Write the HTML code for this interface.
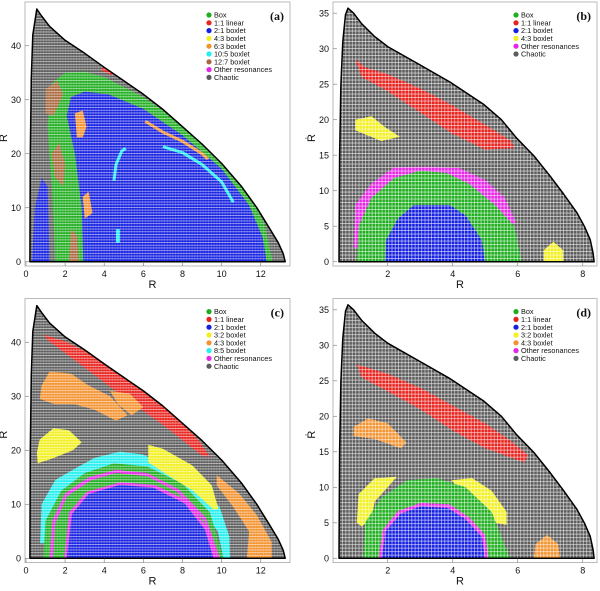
<!DOCTYPE html>
<html><head><meta charset="utf-8"><style>
html,body{margin:0;padding:0;background:#fff}
svg{display:block;font-family:"Liberation Sans",sans-serif}
</style></head><body>
<svg id="fig" width="600" height="591" viewBox="0 0 600 591" xmlns="http://www.w3.org/2000/svg"></svg>
<script>
// ---- data (data coordinates: R, Rdot) ----
const boundaryA = [[0.2,0],[0.22,20],[0.27,34],[0.35,42],[0.55,46.8],[0.8,45.5],[1.2,43.6],[2,41],[3,38.6],[4,36],[5,33.5],[6,31],[7,28.2],[8,25],[9,21.8],[10,18.2],[11,14],[11.8,10],[12.4,6.5],[12.9,3.5],[13.15,1.5],[13.25,0]];
const boundaryB = [[0.5,0],[0.52,15],[0.56,25],[0.62,31],[0.7,34.8],[0.78,35.7],[0.95,35],[1.2,33.5],[1.6,31.7],[2,30.3],[3,27.7],[3.92,25.3],[4.94,22.2],[5.5,20],[5.97,17.4],[6.5,14.9],[6.99,12.1],[7.4,9.6],[7.82,6.9],[8.05,5],[8.23,3.1],[8.32,1.2],[8.35,0]];
const ticksXA = [0,2,4,6,8,10,12];
const ticksYA = [0,10,20,30,40];
const ticksXB = [2,4,6,8];
const ticksYB = [0,5,10,15,20,25,30,35];
const colors = {box:"#1fae1f",lin:"#e8231e",b21:"#1520e0",yel:"#f2f020",ora:"#f3922e",cya:"#25eeee",bro:"#a8683c",mag:"#e626e6",cha:"#5c5c5c"};
const legendA = [["Box","box"],["1:1 linear","lin"],["2:1 boxlet","b21"],["4:3 boxlet","yel"],["6:3 boxlet","ora"],["10:5 boxlet","cya"],["12:7 boxlet","bro"],["Other resonances","mag"],["Chaotic","cha"]];
const legendB = [["Box","box"],["1:1 linear","lin"],["2:1 boxlet","b21"],["4:3 boxlet","yel"],["Other resonances","mag"],["Chaotic","cha"]];
const legendC = [["Box","box"],["1:1 linear","lin"],["2:1 boxlet","b21"],["3:2 boxlet","yel"],["4:3 boxlet","ora"],["8:5 boxlet","cya"],["Other resonances","mag"],["Chaotic","cha"]];
const legendD = [["Box","box"],["1:1 linear","lin"],["2:1 boxlet","b21"],["3:2 boxlet","yel"],["4:3 boxlet","ora"],["Other resonances","mag"],["Chaotic","cha"]];
const regionsA = [
 ["box",[[1.5,0],[1.35,12],[1.1,25],[1.3,33],[2,35],[3,35.2],[4,34.2],[6,30.5],[8,25.5],[10,19.5],[11.3,13.5],[12.2,7],[12.6,0]]],
 ["b21",[[2.93,0],[2.85,10],[2.5,20],[2.08,27],[2.3,30.5],[3,31.5],[4.2,31],[6,28.3],[8,23.4],[10,17.2],[11.4,10.5],[12.1,4.5],[12.3,0]]],
 ["b21",[[0.3,0],[0.45,10],[0.8,15.5],[1.1,14],[1.15,8],[1.2,0]]],
 ["bro",[[1,32],[1.6,33.5],[1.9,31],[1.4,27],[1,27.5]]],
 ["bro",[[1.3,20],[1.7,22],[2,18],[1.9,14],[1.5,15.5]]],
 ["bro",[[2.2,0],[2.3,6],[2.6,5],[2.7,0]]],
 ["ora",[[2.6,23],[2.5,27.5],[2.9,28],[3.1,25],[2.9,23]]],
 ["ora",[[3,8],[2.9,12],[3.2,13],[3.4,9]]],
 ["cya",[[4.6,3.5],[4.6,6],[4.8,6],[4.8,3.5]]],
 ["lin",[[3.8,35.5],[4.4,34.5],[4.6,35.3],[4.0,36.2]]]
];
const linesA = [
 ["cya",[[4.5,15],[4.6,18],[4.9,20.5],[5.1,21]]],
 ["cya",[[7,21.3],[8,20.2],[9,18],[10,14.8],[10.6,11]]],
 ["ora",[[6.1,26],[7,24],[8,22.3],[9,20],[9.3,19]]]
];
const regionsB = [
 ["mag",[[0.95,2],[1,8],[1.5,11],[2.2,13.3],[3.2,13.4],[4.2,13.2],[5,11.5],[5.6,9],[5.96,5.4],[5.4,5.6],[4.5,10],[3.5,11],[2,10],[1.4,6],[1.3,2]]],
 ["box",[[1.05,0],[1.1,5],[1.5,9],[2.2,11.8],[3,12.8],[3.8,12.5],[4.5,11],[5.3,8],[5.9,5],[6.12,0]]],
 ["b21",[[1.92,0],[1.95,3],[2.3,6],[2.8,8],[3.9,8],[4.4,6.5],[4.9,3],[5,0]]],
 ["lin",[[1.0,28.5],[1.3,27.4],[2,26.4],[3,24.4],[4,22],[5,19.3],[5.8,17],[5.9,16],[5,15.8],[4,18],[3,21],[2,24],[1.2,26]]],
 ["yel",[[1.0,20],[1.5,20.5],[1.9,19],[2.38,17.6],[1.8,17],[1.0,18.5]]],
 ["yel",[[6.8,0],[6.8,1.6],[7.1,2.8],[7.4,1.6],[7.4,0]]]
];
const regionsC = [
 ["cya",[[0.72,2.8],[0.8,10],[1.5,14.5],[2.4,16.4],[3.5,18.6],[4.8,19.75],[6,19.2],[7.5,16.5],[8.8,13.5],[9.9,9.5],[10.4,4],[10.43,0],[10.09,0],[9.8,5],[8.5,11],[6,15.5],[2.5,12.5],[1.4,9],[1.1,2.8]]],
 ["box",[[0.89,0],[1.0,7],[1.8,12.5],[3,15.8],[4.5,17.6],[6.2,17],[8,13.8],[9.4,8.5],[10.09,0]]],
 ["mag",[[1.2,0],[1.35,7],[2,12],[3.2,15],[4.6,16.4],[6.2,15.8],[7.8,12.8],[9.2,7.5],[9.92,0],[9.75,0],[9.1,7],[7.7,12.3],[6.2,15.2],[4.6,15.8],[3.3,14.4],[2.1,11.5],[1.5,6.5],[1.38,0]]],
 ["mag",[[1.95,0],[2.2,8.5],[3.1,12.3],[4.8,14.1],[6.6,13.6],[8.3,10.6],[9.3,5.5],[9.75,0]]],
 ["b21",[[2.08,0],[2.35,8.2],[3.2,11.9],[4.8,13.6],[6.5,13.1],[8.1,10.2],[9.15,5.3],[9.58,0]]],
 ["lin",[[0.9,41.4],[2,40.2],[4,36.6],[6,31.3],[7.5,26.8],[8.8,22],[9.4,18.8],[9.0,19.0],[7.2,24.2],[5,29.8],[3,35.3],[1.1,40.4]]],
 ["ora",[[1.2,34.6],[2.3,34.2],[3.2,32],[4.3,30],[5.2,26.5],[4.6,25.5],[3.5,27.5],[2.5,28.5],[1.5,28.5],[0.7,29.5],[0.8,32]]],
 ["ora",[[4.3,31],[5.3,30.5],[6,28],[5.4,26.5],[4.7,28.5]]],
 ["ora",[[9.75,15.4],[10.9,12],[11.8,8],[12.56,3],[12.56,0],[11.3,0],[11.4,5],[10.6,9.5],[9.75,13.5]]],
 ["yel",[[0.7,22],[1.4,24.1],[2.2,23.7],[2.85,21.5],[2.4,20],[1.3,18.4],[0.6,17.6],[0.55,19.5]]],
 ["yel",[[6.25,21],[7,20.3],[8.5,17.2],[9.5,13.5],[9.83,9.2],[9.6,9.0],[8.5,12.6],[7.2,15.5],[6.25,17.8]]]
];
const regionsD = [
 ["lin",[[1.05,27.3],[2,26],[3,24],[4,21.5],[5,19],[5.8,16.5],[6.33,14.5],[6.2,13.5],[5,15.5],[4,18],[3,21],[2,23.5],[1.2,25.5]]],
 ["ora",[[0.95,18.5],[1.4,19.7],[2,19],[2.58,16.3],[2.4,15.5],[1.6,16.8],[0.95,17.2]]],
 ["ora",[[6.5,0],[6.55,2],[6.9,3.3],[7.25,2],[7.3,0]]],
 ["yel",[[1.05,5],[1.1,9],[1.6,11.3],[2.28,11.5],[2,10],[1.6,8],[1.5,5.5],[1.2,4.5]]],
 ["yel",[[3.97,11],[4.6,11.3],[5.2,9.5],[5.66,6.5],[5.66,4.7],[5.3,5],[4.9,7.5],[4.2,9.6]]],
 ["box",[[1.25,0],[1.3,5],[1.8,8.5],[2.6,11],[3.5,11.3],[4.4,10],[5.2,6.5],[5.76,0]]],
 ["mag",[[1.72,0],[1.85,4],[2.3,6.6],[3,7.8],[3.9,7.6],[4.5,5.8],[5,3.3],[5.1,0]]],
 ["b21",[[1.82,0],[1.93,3.8],[2.4,6.3],[3,7.3],[3.85,7.1],[4.4,5.5],[4.9,3],[4.99,0]]]
];

// ---- rendering ----
const NS="http://www.w3.org/2000/svg";
const fig=document.getElementById('fig');
function el(tag,attrs,parent){const e=document.createElementNS(NS,tag);for(const k in attrs)e.setAttribute(k,attrs[k]);(parent||fig).appendChild(e);return e;}
const defs=el('defs',{});
function makePattern(id,dx,dy,horizOnly){
 const p=el('pattern',{id:id,width:dx,height:dy,patternUnits:'userSpaceOnUse'},defs);
 el('rect',{x:0,y:dy-0.9,width:dx,height:0.9,fill:'#fff','fill-opacity':horizOnly?0.55:0.6},p);
 el('rect',{x:dx-0.8,y:0,width:0.8,height:dy,fill:'#fff','fill-opacity':horizOnly?0.18:0.6},p);
}
makePattern('gridA',2.75,2.7,true);
makePattern('gridB',3.3,3.5,false);

const panels=[
 {id:'a',ox:0,oy:0,x0:26,kx:19.56,y0:261.7,ky:5.4,box:[25,2,290,266],bnd:boundaryA,reg:regionsA,lines:linesA,leg:legendA,tx:ticksXA,ty:ticksYA,grid:'gridA'},
 {id:'b',ox:300,oy:0,x0:22.7,kx:32.5,y0:261.7,ky:7.1,box:[33,2,297,266],bnd:boundaryB,reg:regionsB,lines:[],leg:legendB,tx:ticksXB,ty:ticksYB,grid:'gridB'},
 {id:'c',ox:0,oy:296.6,x0:26,kx:19.56,y0:261.7,ky:5.4,box:[25,2,290,266],bnd:boundaryA,reg:regionsC,lines:[],leg:legendC,tx:ticksXA,ty:ticksYA,grid:'gridA'},
 {id:'d',ox:300,oy:296.6,x0:22.7,kx:32.5,y0:261.7,ky:7.1,box:[33,2,297,266],bnd:boundaryB,reg:regionsD,lines:[],leg:legendD,tx:ticksXB,ty:ticksYB,grid:'gridB'}
];
panels.forEach(P=>{
 const g=el('g',{transform:`translate(${P.ox},${P.oy})`});
 
 
 const X=v=>P.x0+v*P.kx, Y=v=>P.y0-v*P.ky;
 const pts=a=>a.map(p=>X(p[0]).toFixed(1)+','+Y(p[1]).toFixed(1)).join(' ');
 const [bl,bt,br,bb]=P.box;
 const frame=el('rect',{x:bl,y:bt,width:br-bl,height:bb-bt,fill:'none',stroke:'#aaa','stroke-width':0.8},g);
 
 
 const cp=el('clipPath',{id:'clip'+P.id},defs);
 el('polygon',{points:pts(P.bnd)},cp);
 const area=el('g',{'clip-path':`url(#clip${P.id})`},g);
 const bg=el('polygon',{points:pts(P.bnd),fill:colors.cha},area);
 
 
 P.reg.forEach(r=>{
  const poly=el('polygon',{points:pts(r[1]),fill:colors[r[0]]},area);
  
  
 });
 P.lines.forEach(r=>{
  const pl=el('polyline',{points:pts(r[1]),fill:'none',stroke:colors[r[0]],'stroke-width':3},area);
  
  
 });
 el('rect',{x:0,y:0,width:300,height:300,fill:`url(#${P.grid})`},area);
 const bd=el('polygon',{points:pts(P.bnd),fill:'none',stroke:'#000','stroke-width':1.5,'stroke-linejoin':'round'},g);
 
 
 P.tx.forEach(t=>{
  el('line',{x1:X(t),x2:X(t),y1:bb,y2:bb-4,stroke:'#888','stroke-width':0.7},g);
  const tl=el('text',{x:X(t),y:bb+11,'font-size':9,'text-anchor':'middle',fill:'#111'},g);
  tl.textContent=t;
  
  
 });
 P.ty.forEach(t=>{
  el('line',{x1:bl,x2:bl+4,y1:Y(t),y2:Y(t),stroke:'#888','stroke-width':0.7},g);
  const tl=el('text',{x:bl-4,y:Y(t)+3.2,'font-size':9,'text-anchor':'end',fill:'#111'},g);
  tl.textContent=t;
  
  
 });
 const xt=el('text',{x:(bl+br)/2-5,y:bb+22,'font-size':11,'text-anchor':'middle',fill:'#111'},g);
 xt.textContent='R';
 
 
 const yt=el('text',{x:0,y:0,'font-size':11,'text-anchor':'middle',fill:'#111',transform:`translate(${bl-18},138) rotate(-90)`},g);
 yt.textContent='Ṙ';
 
 
 const lx=br-81, ly=15;
 P.leg.forEach((e,i)=>{
  const c=el('circle',{cx:lx,cy:ly+i*7.8,r:2.6,fill:colors[e[1]]},g);
  
  
  const t=el('text',{x:lx+5,y:ly+i*7.8+2.6,'font-size':7.3,fill:'#111'},g);
  t.textContent=e[0];
  
  
 });
 const pl=el('text',{x:br-6,y:20,'font-size':12,'font-weight':'bold','text-anchor':'end','font-family':'"Liberation Serif",serif',fill:'#111'},g);
 pl.textContent='('+P.id+')';
 
 
});
</script>
</body></html>
